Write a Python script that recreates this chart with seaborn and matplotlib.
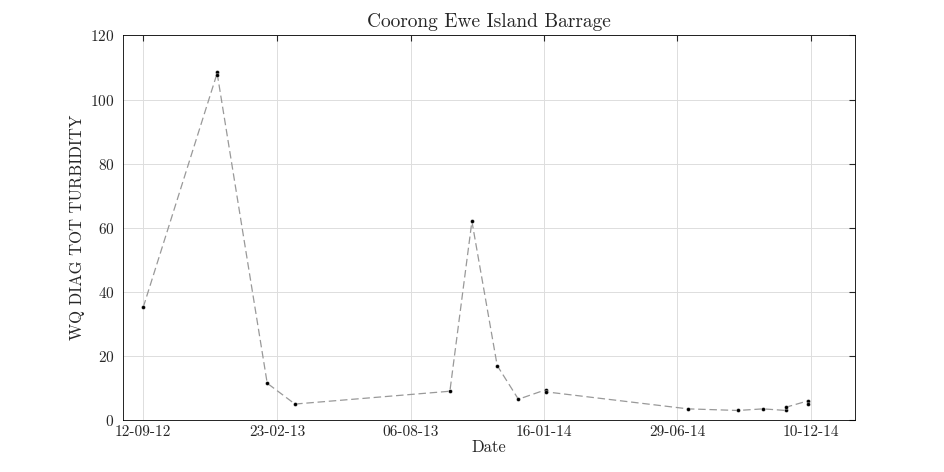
import pandas as pd
import matplotlib
matplotlib.use("Agg")
import matplotlib.pyplot as plt
import matplotlib.dates as mdates
import seaborn as sns

dates = ["2012-09-12", "2012-12-12", "2012-12-12", "2013-02-11", "2013-03-17",
         "2013-09-23", "2013-10-20", "2013-11-20", "2013-12-16", "2014-01-19",
         "2014-01-19", "2014-07-12", "2014-09-11", "2014-10-12", "2014-11-09",
         "2014-11-09", "2014-12-06", "2014-12-06"]
turbidity = [35.2, 108.5, 107.6, 11.5, 5.0, 9.0, 62.0, 17.0, 6.5, 9.5,
             8.8, 3.5, 3.0, 3.5, 3.0, 4.0, 6.0, 5.0]
tick_dates = ["2012-09-12", "2013-02-23", "2013-08-06", "2014-01-16", "2014-06-29", "2014-12-10"]

df = pd.DataFrame({"Date": pd.to_datetime(dates), "val": turbidity})

sns.set_style("white")
plt.rcParams["font.family"] = ["serif"]
plt.rcParams["font.serif"] = ["cmr10", "DejaVu Serif"]
plt.rcParams["axes.formatter.use_mathtext"] = True

fig, ax = plt.subplots(figsize=(9.45, 4.72), dpi=100)
fig.subplots_adjust(left=0.13, right=0.905, top=0.925, bottom=0.11)
sns.lineplot(data=df, x="Date", y="val", ax=ax, color="#999999", lw=0.9,
             linestyle=(0, (6, 3)), estimator=None, sort=False)
sns.scatterplot(data=df, x="Date", y="val", ax=ax, color="black", s=8, zorder=3)

ax.set_xlim(pd.Timestamp("2012-08-18"), pd.Timestamp("2015-02-02"))
ax.set_ylim(0, 120)
ax.set_xticks(pd.to_datetime(tick_dates))
ax.xaxis.set_major_formatter(mdates.DateFormatter("%d-%m-%y"))
ax.set_yticks(range(0, 121, 20))
ax.grid(True, color="#dddddd", lw=0.7)
ax.tick_params(direction="in", top=True, right=True, labelsize=11, length=4)
ax.tick_params(axis="y", pad=6)
for s in ax.spines.values():
    s.set_color("black")
    s.set_linewidth(0.6)
ax.set_xlabel("Date", fontsize=12, labelpad=1)
ax.set_ylabel("WQ DIAG TOT TURBIDITY", fontsize=12)
ax.set_title("Coorong Ewe Island Barrage", fontsize=14)
fig.savefig("out.png", dpi=100)
